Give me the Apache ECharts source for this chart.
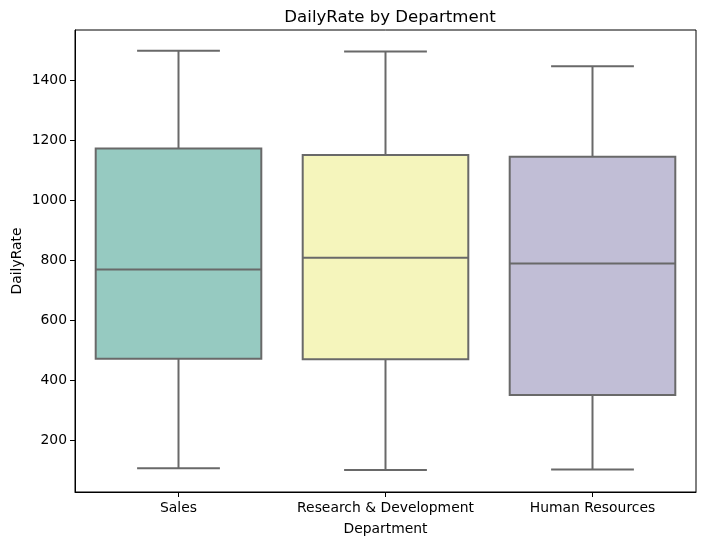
<!DOCTYPE html>
<html>
<head>
<meta charset="utf-8">
<script src="https://cdn.jsdelivr.net/npm/echarts@6/dist/echarts.min.js"></script>
<style>
  html, body { margin: 0; padding: 0; background: #fff; }
  #chart { width: 704px; height: 545px; }
</style>
</head>
<body>
<div id="chart"></div>
<script>
const categories = ['Sales', 'Research & Development', 'Human Resources'];
const whiskerLow = [108, 102, 104];
const q1 = [473, 471, 352];
const median = [770, 809, 790];
const q3 = [1173, 1152, 1146];
const whiskerHigh = [1499, 1496, 1447];
const boxColors = ['#96cac1', '#f5f5bc', '#c1bed6'];
const yTicks = [200, 400, 600, 800, 1000, 1200, 1400];

const FONT = 'DejaVu Sans';
const LINE = '#696969';

const data = categories.map((c, i) => [i, whiskerLow[i], q1[i], median[i], q3[i], whiskerHigh[i]]);

function renderItem(params, api) {
  const idx = api.value(0);
  const band = api.size([1, 0])[0];
  const boxW = band * 0.8;
  const capW = boxW * 0.5;
  const pLow = api.coord([idx, api.value(1)]);
  const pQ1 = api.coord([idx, api.value(2)]);
  const pMed = api.coord([idx, api.value(3)]);
  const pQ3 = api.coord([idx, api.value(4)]);
  const pHigh = api.coord([idx, api.value(5)]);
  const cx = pMed[0];
  const lineStyle = { stroke: LINE, lineWidth: 2, fill: null };
  return {
    type: 'group',
    children: [
      { type: 'line', shape: { x1: cx, y1: pQ1[1], x2: cx, y2: pLow[1] }, style: lineStyle },
      { type: 'line', shape: { x1: cx, y1: pQ3[1], x2: cx, y2: pHigh[1] }, style: lineStyle },
      { type: 'line', shape: { x1: cx - capW / 2, y1: pLow[1], x2: cx + capW / 2, y2: pLow[1] }, style: lineStyle },
      { type: 'line', shape: { x1: cx - capW / 2, y1: pHigh[1], x2: cx + capW / 2, y2: pHigh[1] }, style: lineStyle },
      { type: 'rect', shape: { x: cx - boxW / 2, y: pQ3[1], width: boxW, height: pQ1[1] - pQ3[1] },
        style: { fill: boxColors[idx], stroke: LINE, lineWidth: 2 } },
      { type: 'line', shape: { x1: cx - boxW / 2, y1: pMed[1], x2: cx + boxW / 2, y2: pMed[1] }, style: lineStyle }
    ]
  };
}

const chart = echarts.init(document.getElementById('chart'), null, { renderer: 'canvas' });
chart.setOption({
  animation: false,
  backgroundColor: '#ffffff',
  title: {
    text: 'DailyRate by Department',
    left: 385, top: 4, textAlign: 'center',
    textStyle: { fontFamily: FONT, fontSize: 16.6, fontWeight: 'normal', color: '#000' }
  },
  grid: { left: 75, right: 8, top: 30, bottom: 53, outerBoundsMode: 'none', containLabel: false,
    show: true, borderColor: '#000', borderWidth: 1, backgroundColor: 'transparent' },
  xAxis: {
    type: 'category',
    data: categories,
    boundaryGap: true,
    name: 'Department',
    nameLocation: 'middle',
    nameGap: 30,
    nameMoveOverlap: false,
    nameTextStyle: { fontFamily: FONT, fontSize: 13.9, color: '#000' },
    axisLine: { show: true, lineStyle: { color: '#000', width: 1 } },
    axisTick: { show: true, alignWithLabel: true, length: 5, lineStyle: { color: '#000' } },
    axisLabel: { fontFamily: FONT, fontSize: 13.9, color: '#000', margin: 9, interval: 0 },
    splitLine: { show: false }
  },
  yAxis: {
    type: 'value',
    min: 29.1,
    max: 1568,
    name: 'DailyRate',
    nameLocation: 'middle',
    nameGap: 51,
    nameMoveOverlap: false,
    nameTextStyle: { fontFamily: FONT, fontSize: 13.9, color: '#000' },
    axisLine: { show: true, lineStyle: { color: '#000', width: 1 } },
    axisTick: { show: true, length: 5, lineStyle: { color: '#000' }, customValues: yTicks },
    axisLabel: { fontFamily: FONT, fontSize: 13.9, color: '#000', margin: 8, customValues: yTicks,
      formatter: v => String(v) },
    splitLine: { show: false }
  },
  series: [{
    type: 'custom',
    renderItem: renderItem,
    encode: { x: 0, y: [1, 2, 3, 4, 5] },
    data: data
  }]
});
</script>
</body>
</html>
